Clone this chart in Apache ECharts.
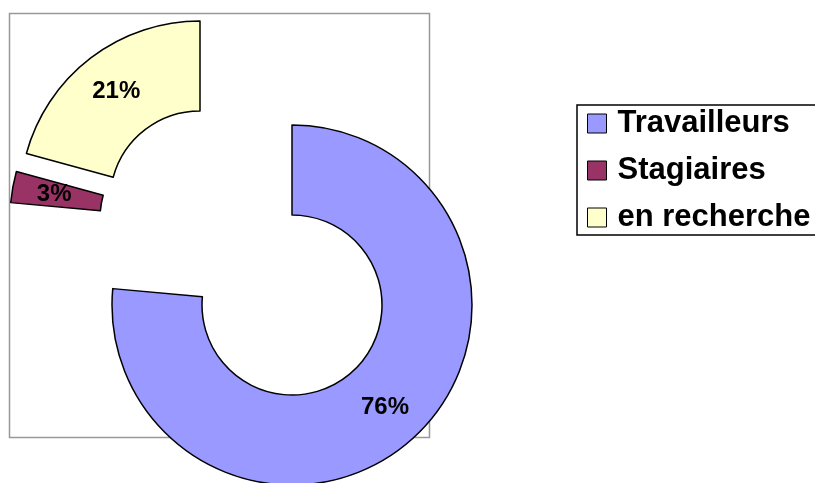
<!DOCTYPE html>
<html>
<head>
<meta charset="utf-8">
<script src="https://cdn.jsdelivr.net/npm/echarts@6/dist/echarts.min.js"></script>
<style>
  html, body { margin: 0; padding: 0; background: #fff; }
  #chart { width: 815px; height: 483px; }
</style>
</head>
<body>
<div id="chart"></div>
<script>
const categories = ['Travailleurs', 'Stagiaires', 'en recherche']
const shares = [76.45, 2.8, 20.75]
const colors = ['#9999FF', '#993366', '#FFFFCC']
// every slice is pulled out of the ring on its own, so each gets its own pie centre
const centers = [[292, 305], [190, 219], [200, 201]]

const font = "'Liberation Sans', Arial, sans-serif"

function sliceSeries(idx) {
  return {
    type: 'pie',
    radius: [90, 180],
    center: centers[idx],
    startAngle: 90,
    clockwise: true,
    avoidLabelOverlap: false,
    silent: true,
    emphasis: { disabled: true },
    label: {
      position: 'inside',
      color: '#000',
      fontFamily: font,
      fontWeight: 'bold',
      fontSize: 24,
      padding: [9, 0, 0, 0],
      formatter: (p) => Math.round(p.percent) + '%',
    },
    labelLine: { show: false },
    data: categories.map((name, i) => ({
      name: name,
      value: shares[i],
      itemStyle: i === idx
        ? { color: colors[i], borderColor: '#000', borderWidth: 1.5 }
        : { color: 'rgba(0,0,0,0)', borderWidth: 0 },
      label: { show: i === idx },
    })),
  }
}

const chart = echarts.init(document.getElementById('chart'))
chart.setOption({
  animation: false,
  backgroundColor: '#fff',
  graphic: [
    {
      type: 'rect',
      z: -10,
      shape: { x: 9.5, y: 13.5, width: 420, height: 424 },
      style: { fill: 'none', stroke: '#999', lineWidth: 1.5 },
    },
  ],
  legend: {
    orient: 'vertical',
    left: 577,
    top: 105,
    padding: [3, 14, 2, 10],
    itemGap: 16,
    itemWidth: 19,
    itemHeight: 19,
    icon: 'rect',
    borderColor: '#000',
    borderWidth: 1.5,
    selectedMode: false,
    textStyle: {
      color: '#000',
      fontFamily: font,
      fontWeight: 'bold',
      fontSize: 31,
      lineHeight: 30,
      padding: [0, 0, 0, 6],
    },
    data: categories.map((name, i) => ({
      name: name,
      itemStyle: { color: colors[i], borderColor: '#000', borderWidth: 1 },
    })),
  },
  series: categories.map((name, i) => sliceSeries(i)),
})
</script>
</body>
</html>
